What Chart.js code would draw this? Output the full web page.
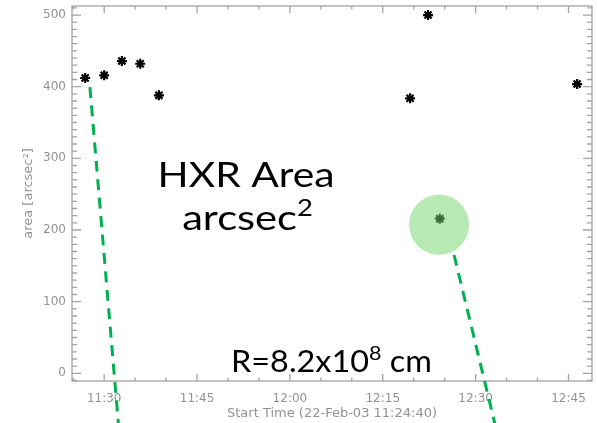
<!DOCTYPE html>
<html>
<head>
<meta charset="utf-8">
<title>HXR Area</title>
<script src="https://cdn.jsdelivr.net/npm/chart.js@4.4.1/dist/chart.umd.min.js"></script>
<style>
    body { margin: 0; background: #fff; }
    #wrap { width: 597px; height: 423px; }
</style>
</head>
<body>
<div id="wrap"><canvas id="myChart" width="597" height="423"></canvas></div>
<script>
// times are minutes after midnight (22-Feb-03), area in arcsec^2
var times = [686.93, 690.0, 692.86, 695.82, 698.84, 739.41, 742.32, 744.21, 766.40];
var areas = [412.1, 415.9, 435.8, 432.0, 387.9, 383.8, 500.0, 215.8, 403.7];

// axis ranges and tick spacing
var xRange = [684.8, 768.8];
var yRange = [-10.7, 512.6];
var xMajor = 15, xMinor = 5;
var yMajor = 100, yMinor = 10;

// highlighted sample and the two pointer lines
var circleAt = [{ x: 744.10, y: 207.4 }];
var leftPointer = [{ x: 687.69, y: 399.5 }, { x: 692.38, y: -79.1 }];
var rightPointer = [{ x: 746.52, y: 165.1 }, { x: 753.36, y: -79.1 }];

var axisGray = '#a3a3a3';
var textGray = '#929292';
var idlFont = { family: 'DejaVu Sans', size: 12 };
var titleFont = { family: 'DejaVu Sans', size: 13 };

function hhmm(v) {
    var h = Math.floor(v / 60);
    var m = Math.round(v - h * 60);
    return h + ':' + (m < 10 ? '0' + m : m);
}

function isMultiple(v, step) {
    var r = Math.abs(v / step - Math.round(v / step));
    return r < 1e-6;
}

// IDL style frame with ticks pointing into the plot
var framePlugin = {
    id: 'frame',
    beforeDatasetsDraw: function (chart) {
        var ctx = chart.ctx;
        var a = chart.chartArea;
        var xs = chart.scales.x, ys = chart.scales.y;
        ctx.save();
        ctx.strokeStyle = axisGray;
        ctx.lineWidth = 1.3;
        ctx.strokeRect(a.left, a.top, a.right - a.left, a.bottom - a.top);
        ctx.beginPath();
        xs.ticks.forEach(function (t) {
            var px = xs.getPixelForValue(t.value);
            var len = isMultiple(t.value, xMajor) ? 7 : 3.5;
            ctx.moveTo(px, a.bottom); ctx.lineTo(px, a.bottom - len);
            ctx.moveTo(px, a.top); ctx.lineTo(px, a.top + len);
        });
        ys.ticks.forEach(function (t) {
            var py = ys.getPixelForValue(t.value);
            var len = isMultiple(t.value, yMajor) ? 9 : 5;
            ctx.moveTo(a.left, py); ctx.lineTo(a.left + len, py);
            ctx.moveTo(a.right, py); ctx.lineTo(a.right - len, py);
        });
        ctx.stroke();
        ctx.restore();
    }
};

// slide captions written over the plot, glyphs a little stretched sideways
function drawSup(ctx, base, sup, tail, cx, baseline, size, supSize, rise, stretch) {
    ctx.font = size + 'px Lato';
    var w1 = ctx.measureText(base).width;
    var w3 = tail ? ctx.measureText(tail).width : 0;
    ctx.font = supSize + 'px Lato';
    var w2 = ctx.measureText(sup).width;
    ctx.save();
    ctx.translate(cx, baseline);
    ctx.scale(stretch, 1);
    var x = -(w1 + w2 + w3) / 2;
    ctx.font = size + 'px Lato';
    ctx.fillText(base, x, 0);
    if (sup) {
        ctx.font = supSize + 'px Lato';
        ctx.fillText(sup, x + w1, -rise);
    }
    if (tail) {
        ctx.font = size + 'px Lato';
        ctx.fillText(tail, x + w1 + w2, 0);
    }
    ctx.restore();
}

var captionPlugin = {
    id: 'captions',
    afterDraw: function (chart) {
        var ctx = chart.ctx;
        ctx.save();
        ctx.fillStyle = '#000';
        ctx.textBaseline = 'alphabetic';
        ctx.textAlign = 'left';
        drawSup(ctx, 'HXR Area', '', '', 246, 187, 35, 23, 0, 1.165);
        drawSup(ctx, 'arcsec', '2', '', 247.5, 230, 35, 23, 14, 1.19);
        drawSup(ctx, 'R=8.2x10', '8', ' cm', 331.5, 372, 30, 20, 12, 1.08);
        ctx.restore();
    }
};

// keep tick label overhang from pushing the plot box around
function noOverhang(scale) {
    scale.paddingTop = 0;
    scale.paddingBottom = 0;
    scale.paddingLeft = 0;
    scale.paddingRight = 0;
}

document.addEventListener('DOMContentLoaded', function () {
    var ctx = document.getElementById('myChart').getContext('2d');
    var points = times.map(function (t, i) { return { x: t, y: areas[i] }; });

    var myChart = new Chart(ctx, {
        type: 'scatter',
        data: {
            datasets: [{
                label: 'highlight',
                data: circleAt,
                pointRadius: 30,
                pointBackgroundColor: 'rgba(112, 214, 104, 0.5)',
                pointBorderWidth: 0,
                clip: false
            }, {
                label: 'pointer left',
                data: leftPointer,
                showLine: true,
                pointRadius: 0,
                borderColor: '#00b050',
                borderWidth: 3,
                borderDash: [11, 7.5],
                clip: false
            }, {
                label: 'pointer right',
                data: rightPointer,
                showLine: true,
                pointRadius: 0,
                borderColor: '#00b050',
                borderWidth: 3,
                borderDash: [11, 7.5],
                clip: false
            }, {
                label: 'area',
                data: points,
                pointStyle: 'star',
                pointRadius: 5,
                pointBorderWidth: 2.2,
                pointBorderColor: '#000',
                pointBackgroundColor: '#000'
            }]
        },
        options: {
            responsive: false,
            animation: false,
            layout: { autoPadding: false, padding: { top: 6, right: 5, left: 0, bottom: 0 } },
            plugins: {
                legend: { display: false },
                tooltip: { enabled: false }
            },
            scales: {
                x: {
                    type: 'linear',
                    min: xRange[0],
                    max: xRange[1],
                    grid: { display: false, drawTicks: false },
                    border: { display: false },
                    ticks: {
                        stepSize: xMinor,
                        includeBounds: false,
                        autoSkip: false,
                        maxRotation: 0,
                        padding: 10.5,
                        color: textGray,
                        font: idlFont,
                        callback: function (v) { return isMultiple(v, xMajor) ? hhmm(v) : ''; }
                    },
                    title: {
                        display: true,
                        text: 'Start Time (22-Feb-03 11:24:40)',
                        color: textGray,
                        font: titleFont,
                        padding: { top: 0, bottom: 2 }
                    },
                    afterFit: function (scale) { scale.height = 42; noOverhang(scale); }
                },
                y: {
                    min: yRange[0],
                    max: yRange[1],
                    grid: { display: false, drawTicks: false },
                    border: { display: false },
                    ticks: {
                        stepSize: yMinor,
                        includeBounds: false,
                        autoSkip: false,
                        padding: 6,
                        color: textGray,
                        font: idlFont,
                        callback: function (v) { return isMultiple(v, yMajor) ? String(Math.round(v)) : ''; }
                    },
                    title: {
                        display: true,
                        text: 'area [arcsec²]',
                        color: textGray,
                        font: titleFont,
                        padding: { top: 21, bottom: 0 }
                    },
                    afterFit: function (scale) { scale.width = 72; noOverhang(scale); }
                }
            }
        },
        plugins: [framePlugin, captionPlugin]
    });
});
</script>
</body>
</html>
